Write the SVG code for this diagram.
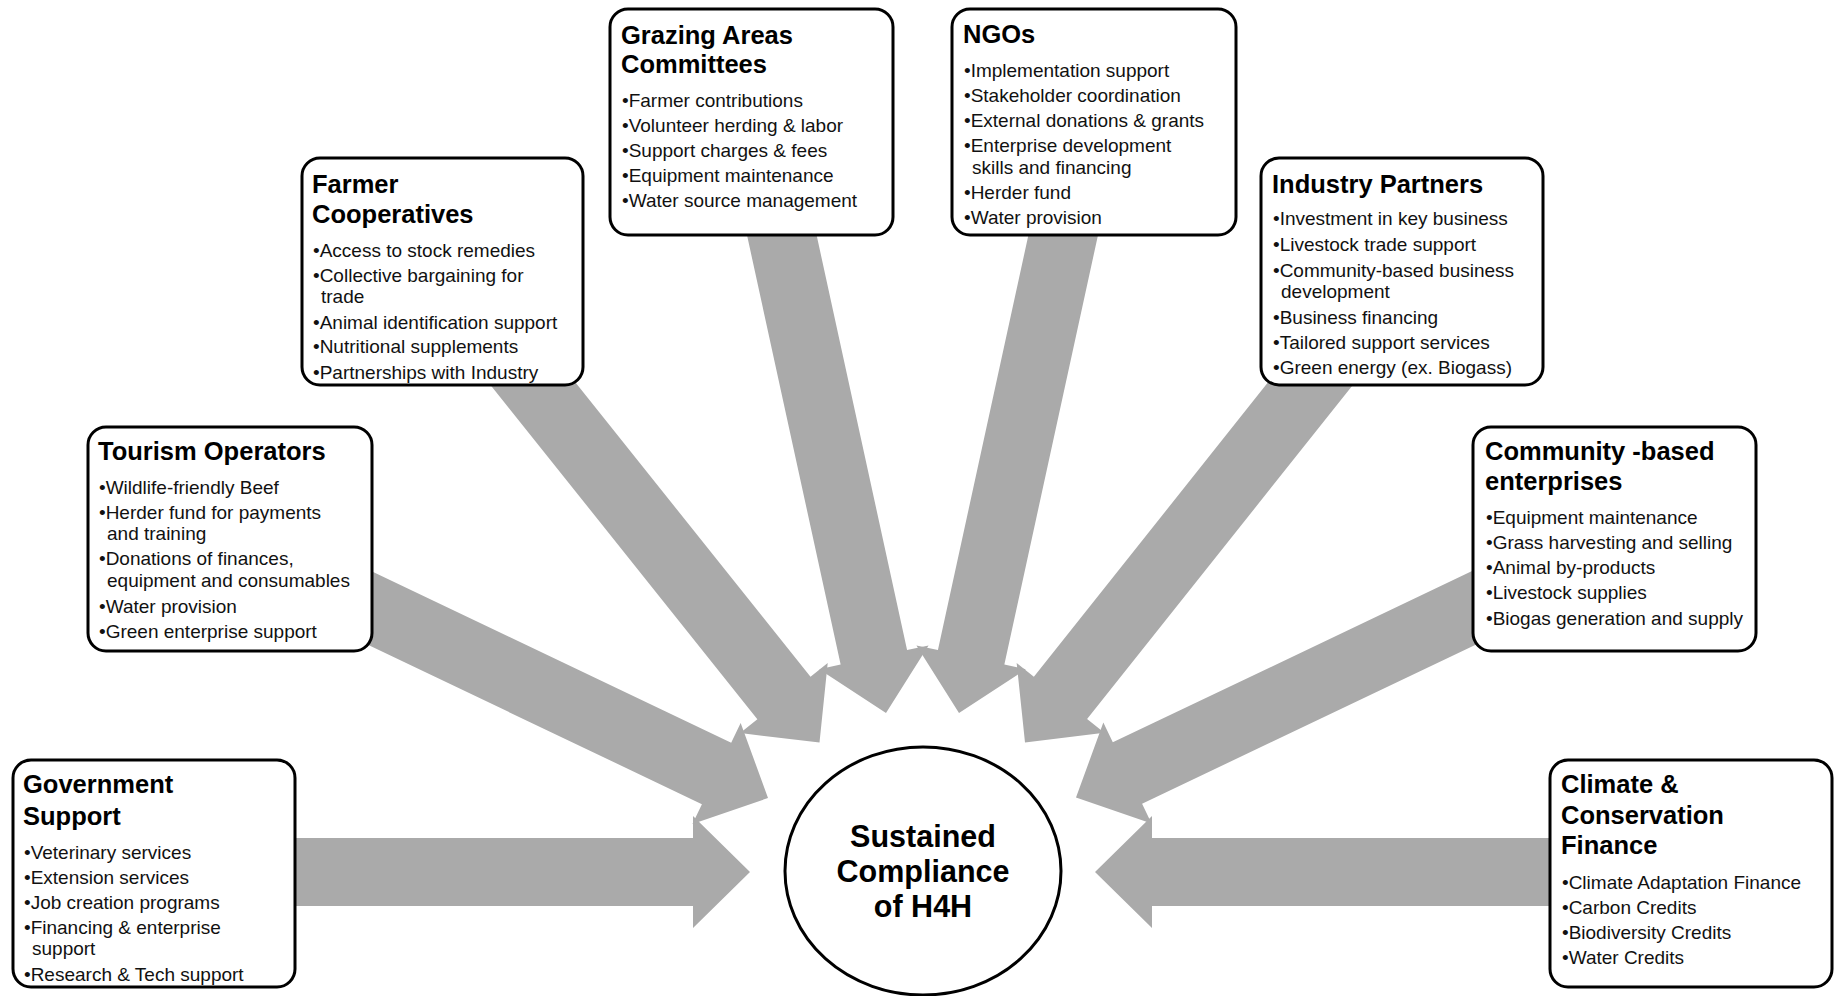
<svg xmlns="http://www.w3.org/2000/svg" xmlns:xlink="http://www.w3.org/1999/xlink" width="1836" height="996" viewBox="0 0 1836 996">
<defs>
<style>
.box{fill:#fff;stroke:#000;stroke-width:3}
.arrow{fill:#aaaaaa}
.t{font-family:"Liberation Sans",Arial,sans-serif;font-weight:bold;font-size:25.5px;fill:#000}
.b{font-family:"Liberation Sans",Arial,sans-serif;font-size:19px;fill:#111}
.c{font-family:"Liberation Sans",Arial,sans-serif;font-weight:bold;font-size:30.5px;fill:#000;text-anchor:middle}
</style>
<path id="arrow" class="arrow" d="M0,0 L-57,-56 L-57,-34 L-560,-34 L-560,34 L-57,34 L-57,56 Z"/>
</defs>
<rect width="1836" height="996" fill="#fff"/>
<g id="connectors">
<use xlink:href="#arrow" transform="translate(750,872) rotate(0)"/>
<use xlink:href="#arrow" transform="translate(768,798) rotate(25.5)"/>
<use xlink:href="#arrow" transform="translate(819.5,742.6) rotate(51.4)"/>
<use xlink:href="#arrow" transform="translate(886,713) rotate(77.7)"/>
<use xlink:href="#arrow" transform="translate(959,713) rotate(102.3)"/>
<use xlink:href="#arrow" transform="translate(1025,742.5) rotate(128.5)"/>
<use xlink:href="#arrow" transform="translate(1076,797.6) rotate(154.5)"/>
<use xlink:href="#arrow" transform="translate(1095,872) rotate(180)"/>
</g>
<g id="government">
<rect class="box" x="13" y="760" width="282" height="227" rx="18"/>
<text class="t" x="23" y="793">Government</text>
<text class="t" x="23" y="825">Support</text>
<text class="b" x="24" y="859">•Veterinary services</text>
<text class="b" x="24" y="884">•Extension services</text>
<text class="b" x="24" y="909">•Job creation programs</text>
<text class="b" x="24" y="934">•Financing &amp; enterprise</text>
<text class="b" x="32" y="955">support</text>
<text class="b" x="24" y="981">•Research &amp; Tech support</text>
</g>
<g id="tourism">
<rect class="box" x="88" y="427" width="284" height="224" rx="18"/>
<text class="t" x="98" y="460">Tourism Operators</text>
<text class="b" x="99" y="494">•Wildlife-friendly Beef</text>
<text class="b" x="99" y="519">•Herder fund for payments</text>
<text class="b" x="107" y="540">and training</text>
<text class="b" x="99" y="565">•Donations of finances,</text>
<text class="b" x="107" y="587">equipment and consumables</text>
<text class="b" x="99" y="613">•Water provision</text>
<text class="b" x="99" y="638">•Green enterprise support</text>
</g>
<g id="farmer">
<rect class="box" x="302" y="158" width="281" height="227" rx="18"/>
<text class="t" x="312" y="193">Farmer</text>
<text class="t" x="312" y="223">Cooperatives</text>
<text class="b" x="313" y="257">•Access to stock remedies</text>
<text class="b" x="313" y="282">•Collective bargaining for</text>
<text class="b" x="321" y="303">trade</text>
<text class="b" x="313" y="329">•Animal identification support</text>
<text class="b" x="313" y="353">•Nutritional supplements</text>
<text class="b" x="313" y="379">•Partnerships with Industry</text>
</g>
<g id="grazing">
<rect class="box" x="610" y="9" width="283" height="226" rx="18"/>
<text class="t" x="621" y="44">Grazing Areas</text>
<text class="t" x="621" y="73">Committees</text>
<text class="b" x="622" y="107">•Farmer contributions</text>
<text class="b" x="622" y="132">•Volunteer herding &amp; labor</text>
<text class="b" x="622" y="157">•Support charges &amp; fees</text>
<text class="b" x="622" y="182">•Equipment maintenance</text>
<text class="b" x="622" y="207">•Water source management</text>
</g>
<g id="ngos">
<rect class="box" x="952" y="9" width="284" height="226" rx="18"/>
<text class="t" x="963" y="43">NGOs</text>
<text class="b" x="964" y="77">•Implementation support</text>
<text class="b" x="964" y="102">•Stakeholder coordination</text>
<text class="b" x="964" y="127">•External donations &amp; grants</text>
<text class="b" x="964" y="152">•Enterprise development</text>
<text class="b" x="972" y="174">skills and financing</text>
<text class="b" x="964" y="199">•Herder fund</text>
<text class="b" x="964" y="224">•Water provision</text>
</g>
<g id="industry">
<rect class="box" x="1261" y="158" width="282" height="227" rx="18"/>
<text class="t" x="1272" y="193">Industry Partners</text>
<text class="b" x="1273" y="225">•Investment in key business</text>
<text class="b" x="1273" y="251">•Livestock trade support</text>
<text class="b" x="1273" y="277">•Community-based business</text>
<text class="b" x="1281" y="298">development</text>
<text class="b" x="1273" y="324">•Business financing</text>
<text class="b" x="1273" y="349">•Tailored support services</text>
<text class="b" x="1273" y="374">•Green energy (ex. Biogass)</text>
</g>
<g id="community">
<rect class="box" x="1473" y="427" width="283" height="224" rx="18"/>
<text class="t" x="1485" y="460">Community -based</text>
<text class="t" x="1485" y="490">enterprises</text>
<text class="b" x="1486" y="524">•Equipment maintenance</text>
<text class="b" x="1486" y="549">•Grass harvesting and selling</text>
<text class="b" x="1486" y="574">•Animal by-products</text>
<text class="b" x="1486" y="599">•Livestock supplies</text>
<text class="b" x="1486" y="625">•Biogas generation and supply</text>
</g>
<g id="climate">
<rect class="box" x="1550" y="760" width="282" height="227" rx="18"/>
<text class="t" x="1561" y="793">Climate &amp;</text>
<text class="t" x="1561" y="824">Conservation</text>
<text class="t" x="1561" y="854">Finance</text>
<text class="b" x="1562" y="889">•Climate Adaptation Finance</text>
<text class="b" x="1562" y="914">•Carbon Credits</text>
<text class="b" x="1562" y="939">•Biodiversity Credits</text>
<text class="b" x="1562" y="964">•Water Credits</text>
</g>
<g id="center">
<ellipse cx="923" cy="871" rx="138" ry="124" fill="#fff" stroke="#000" stroke-width="3"/>
<text class="c" x="923" y="847">Sustained</text>
<text class="c" x="923" y="882">Compliance</text>
<text class="c" x="923" y="917">of H4H</text>
</g>
</svg>
